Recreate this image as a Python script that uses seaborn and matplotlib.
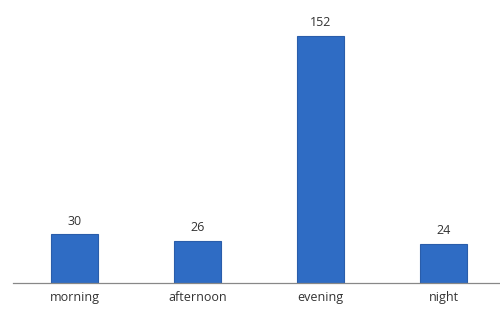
import matplotlib
matplotlib.use('Agg')
import matplotlib.pyplot as plt
import seaborn as sns
import pandas as pd

# data
periods = ['morning', 'afternoon', 'evening', 'night']
counts = [30, 26, 152, 24]

df = pd.DataFrame({'period': periods, 'count': counts})

sns.set_style('white')
plt.rcParams['font.family'] = ['Open Sans', 'DejaVu Sans']

fig = plt.figure(figsize=(5, 3.11), dpi=100)
ax = fig.add_axes([0.026, 0.09, 0.984, 0.89])

sns.barplot(data=df, x='period', y='count', color='#2F6CC4', width=0.39,
            saturation=1, edgecolor='#2A5DAA', linewidth=0.8, ax=ax)

for i, v in enumerate(counts):
    ax.text(i, v + 4, str(v), ha='center', va='bottom', fontsize=9, color='#333333')

ax.set_xlim(-0.5, 3.5)
ax.set_ylim(0, 170)
ax.set_xlabel('')
ax.set_ylabel('')
ax.set_yticks([])
ax.tick_params(axis='x', length=0, labelsize=9, labelcolor='#333333', pad=6)
for s in ['top', 'right', 'left']:
    ax.spines[s].set_visible(False)
ax.spines['bottom'].set_color('#888888')
ax.spines['bottom'].set_linewidth(0.9)

fig.savefig('out.png', dpi=100)
